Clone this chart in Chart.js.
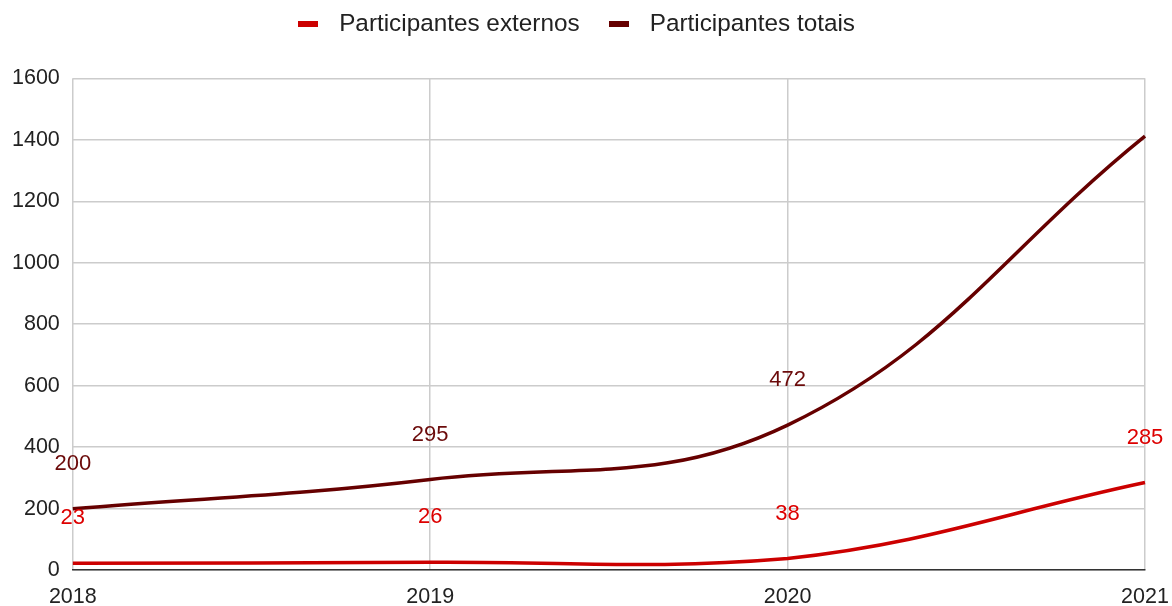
<!DOCTYPE html>
<html>
<head>
<meta charset="utf-8">
<script src="https://cdn.jsdelivr.net/npm/chart.js@4"></script>
<style>
  html, body { margin: 0; padding: 0; background: #fff; }
  #wrap { width: 1172px; height: 606px; }
</style>
</head>
<body>
<div id="wrap"><canvas id="chart"></canvas></div>
<script>
const years = ["2018", "2019", "2020", "2021"];
const externos = [23, 26, 38, 285];
const totais = [200, 295, 472, 1412];
const yTicks = [0, 200, 400, 600, 800, 1000, 1200, 1400, 1600];

const FONT = "'Liberation Sans', Arial, sans-serif";

// small flat bar used as legend marker
function legendBar(color) {
  const c = document.createElement("canvas");
  c.width = 20;
  c.height = 6;
  const g = c.getContext("2d");
  g.fillStyle = color;
  g.fillRect(0, 0, 20, 6);
  return c;
}

// labels drawn above each point, like the annotations in the original
const pointLabels = {
  id: "pointLabels",
  afterDatasetsDraw(chart) {
    const ctx = chart.ctx;
    ctx.save();
    ctx.font = "22px " + FONT;
    ctx.textAlign = "center";
    ctx.textBaseline = "middle";
    chart.data.datasets.forEach((ds, i) => {
      const meta = chart.getDatasetMeta(i);
      meta.data.forEach((pt, j) => {
        if (ds.hideLabels && ds.hideLabels.includes(j)) return;
        ctx.fillStyle = ds.labelColor;
        ctx.fillText(String(ds.data[j]), pt.x, pt.y - 45);
      });
    });
    ctx.restore();
  }
};

// give the legend a bit more room below it
const legendSpace = {
  id: "legendSpace",
  afterInit(chart) {
    const lg = chart.legend;
    if (!lg) return;
    const fit = lg.fit;
    lg.fit = function () {
      fit.call(this);
      this.height += 32;
    };
  }
};

new Chart(document.getElementById("chart").getContext("2d"), {
  type: "line",
  data: {
    labels: years,
    datasets: [
      {
        label: "Participantes externos",
        data: externos,
        borderColor: "#cc0000",
        backgroundColor: "#cc0000",
        labelColor: "#dd0000",
        borderWidth: 3.5,
        pointRadius: 0,
        pointStyle: legendBar("#cc0000"),
        tension: 0.4,
      },
      {
        label: "Participantes totais",
        data: totais,
        borderColor: "#660000",
        backgroundColor: "#660000",
        labelColor: "#6b0a0a",
        borderWidth: 3.5,
        pointRadius: 0,
        pointStyle: legendBar("#660000"),
        tension: 0.4,
        hideLabels: [3],
      },
    ],
  },
  options: {
    responsive: true,
    maintainAspectRatio: false,
    animation: false,
    layout: { padding: { left: -1, right: 27, top: -8, bottom: -18 } },
    plugins: {
      legend: {
        position: "top",
        labels: {
          usePointStyle: true,
          pointStyleWidth: 38,
          boxHeight: 6,
          padding: 20,
          color: "#222",
          font: { family: FONT, size: 24.3 },
        },
      },
      tooltip: { enabled: false },
    },
    scales: {
      x: {
        offset: false,
        afterFit(scale) {
          scale.paddingLeft = 0;
          scale.paddingRight = 0;
        },
        grid: { color: "#cccccc", lineWidth: 1.5, drawTicks: false },
        border: { color: "#333", width: 1.5 },
        ticks: {
          padding: 14,
          color: "#222",
          maxRotation: 0,
          font: { family: FONT, size: 21.5 },
        },
      },
      y: {
        min: 0,
        max: 1600,
        afterBuildTicks(axis) {
          axis.ticks = yTicks.map(v => ({ value: v }));
        },
        grid: { color: "#cccccc", lineWidth: 1.5, drawTicks: false },
        border: { display: false },
        ticks: {
          padding: 13,
          color: "#222",
          callback: v => String(v),
          font: { family: FONT, size: 21.5 },
        },
      },
    },
  },
  plugins: [pointLabels, legendSpace],
});
</script>
</body>
</html>
